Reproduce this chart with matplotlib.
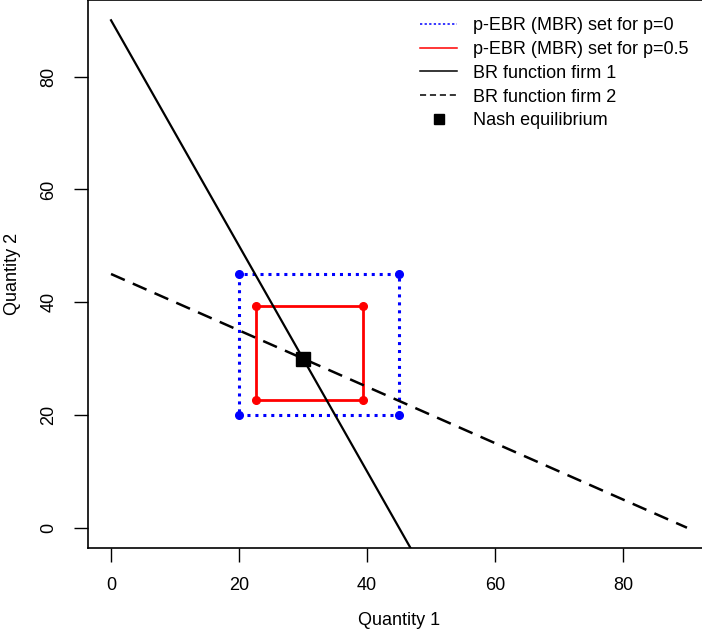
import numpy as np
import matplotlib.pyplot as plt
from matplotlib.lines import Line2D

plt.rcParams['font.family'] = ['Liberation Sans', 'DejaVu Sans']

# best response lines (end points)
br1_q1 = [0, 48]
br1_q2 = [90, -6]
br2_q1 = [0, 90]
br2_q2 = [45, 0]

# p-EBR sets (lower, upper bounds, same for both quantities)
set_p0 = [20, 45]
set_p05 = [22.7, 39.4]

nash = (30, 30)

legend_labels = ['p-EBR (MBR) set for p=0', 'p-EBR (MBR) set for p=0.5',
                 'BR function firm 1', 'BR function firm 2', 'Nash equilibrium']

fig = plt.figure(figsize=(7.02, 6.35), dpi=100)
ax = fig.add_axes([88 / 702, 87 / 635, 622 / 702, 548 / 635])


def box(lo, hi):
    xs = [lo, hi, hi, lo, lo]
    ys = [lo, lo, hi, hi, lo]
    return xs, ys


bx, by = box(*set_p0)
ax.plot(bx, by, color='blue', ls=(0, (1, 1.6)), lw=2.2)
ax.plot(bx[:4], by[:4], 'o', color='blue', ms=5.5)

rx, ry = box(*set_p05)
ax.plot(rx, ry, color='red', lw=2.0)
ax.plot(rx[:4], ry[:4], 'o', color='red', ms=5.5)

ax.plot(br1_q1, br1_q2, color='black', lw=1.6)
ax.plot(br2_q1, br2_q2, color='black', lw=1.8, ls=(0, (6, 3.5)))
ax.plot(*nash, 's', color='black', ms=9.5, ls='none')

ax.set_xlim(-3.6, 93.6)
ax.set_ylim(-3.6, 93.6)
ax.set_xticks([0, 20, 40, 60, 80])
ax.set_yticks([0, 20, 40, 60, 80])
ax.tick_params(axis='x', length=10, width=1, labelsize=13, pad=11)
ax.tick_params(axis='y', length=10, width=1, labelsize=13, pad=12)
for lab in ax.get_yticklabels():
    lab.set_rotation(90)
    lab.set_va('center')
for s in ax.spines.values():
    s.set_linewidth(1.2)

ax.set_xlabel('Quantity 1', fontsize=13, labelpad=13)
ax.set_ylabel('Quantity 2', fontsize=13, labelpad=14)

# legend keys are thinner than the plotted lines
handles = [
    Line2D([], [], color='blue', lw=1.1, ls=(0, (1.5, 1.5))),
    Line2D([], [], color='red', lw=1.1),
    Line2D([], [], color='black', lw=1.1),
    Line2D([], [], color='black', lw=1.1, ls=(0, (4, 2.5))),
    Line2D([], [], color='black', marker='s', ms=6.5, ls='none'),
]
fig.legend(handles, legend_labels, loc='upper left', bbox_to_anchor=(420 / 702, 1 - 17 / 635),
           frameon=False, fontsize=13, handlelength=2.05, handletextpad=0.9,
           labelspacing=0.38, borderpad=0, borderaxespad=0)

fig.savefig('out.png', dpi=100)
